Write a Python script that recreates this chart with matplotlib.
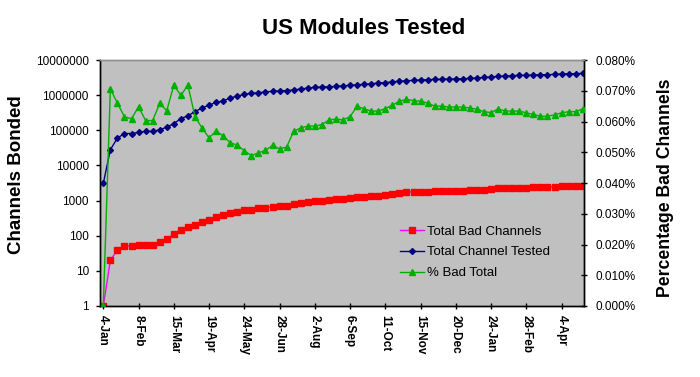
import datetime
import matplotlib
matplotlib.use("Agg")
import matplotlib.pyplot as plt
import matplotlib.dates as mdates
from matplotlib.ticker import FixedLocator, FuncFormatter, NullLocator

plt.rcParams['font.family'] = ['Liberation Sans', 'DejaVu Sans']

# weekly samples starting 4-Jan
START = datetime.date(2005, 1, 4)
N_WEEKS = 69
dates = [START + datetime.timedelta(days=7 * i) for i in range(N_WEEKS)]

tick_labels = ['4-Jan', '8-Feb', '15-Mar', '19-Apr', '24-May', '28-Jun', '2-Aug',
               '6-Sep', '11-Oct', '15-Nov', '20-Dec', '24-Jan', '28-Feb', '4-Apr']

bad_channels = [1, 20, 39, 51, 51, 55, 55, 55, 65, 80, 113, 147, 178, 203, 247, 283,
                344, 392, 447, 478, 533, 557, 596, 634, 677, 710, 710, 790,
                841, 938, 980, 980, 1047, 1117, 1117, 1194, 1275, 1275, 1361, 1361,
                1453, 1552, 1657, 1770, 1770, 1770, 1770, 1890, 1890, 1890, 1890, 1890,
                2018, 2018, 2018, 2155, 2301, 2301, 2301, 2301, 2301, 2457, 2457, 2457,
                2457, 2623, 2623, 2623, 2623]

channels_tested = [3100, 28000, 60000, 81000, 81000, 87000, 93000, 93000, 103000,
                   123000, 155000, 214000, 259000, 340000, 430000, 520000, 620000,
                   690000, 830000, 940000, 1050000, 1120000, 1170000, 1230000,
                   1290000, 1320000, 1350000, 1410000,
                   1490000, 1590000, 1660000, 1700000, 1730000, 1770000, 1850000,
                   1890000, 1980000, 2020000, 2110000, 2210000, 2260000, 2410000,
                   2460000, 2570000, 2630000, 2690000, 2750000, 2810000, 2810000,
                   2870000, 2870000, 2930000, 3000000, 3060000, 3200000, 3270000,
                   3420000, 3490000, 3570000, 3650000, 3650000, 3730000, 3810000,
                   3810000, 3900000, 3980000, 4070000, 4070000, 4160000]

# percent values
pct_bad = [0.0, 0.0706, 0.0660, 0.0615, 0.0609, 0.0648, 0.0603, 0.0603, 0.0659,
           0.0635, 0.0718, 0.0685, 0.0718, 0.0616, 0.0579, 0.0547, 0.0569, 0.0553,
           0.0531, 0.0523, 0.0505, 0.0489, 0.0498, 0.0506, 0.0522, 0.0511, 0.0517,
           0.0568,
           0.0579, 0.0585, 0.0585, 0.0590, 0.0605, 0.0608, 0.0605, 0.0616, 0.0649,
           0.0641, 0.0634, 0.0634, 0.0642, 0.0653, 0.0666, 0.0672, 0.0668, 0.0666,
           0.0660, 0.0650, 0.0650, 0.0647, 0.0647, 0.0647, 0.0644, 0.0640, 0.0632,
           0.0629, 0.0641, 0.0634, 0.0634, 0.0634, 0.0628, 0.0623, 0.0617, 0.0617,
           0.0622, 0.0628, 0.0632, 0.0632, 0.0641]

W, H = 700, 377
fig = plt.figure(figsize=(W / 100, H / 100), dpi=100)
ax = fig.add_axes([100 / W, 1 - 306 / H, 484 / W, 246 / H])
ax.set_facecolor('#c0c0c0')

l1, = ax.plot(dates, bad_channels, color='#ff00ff', lw=1, marker='s', ms=4.5,
              mfc='#ff0000', mec='#ff0000', label='Total Bad Channels', zorder=3)
l2, = ax.plot(dates, channels_tested, color='#000080', lw=1, marker='D', ms=3,
              mfc='#000080', mec='#000080', label='Total Channel Tested', zorder=3)
ax.set_yscale('log')
ax.set_ylim(1, 1e7)
ax.yaxis.set_major_locator(FixedLocator([10 ** k for k in range(8)]))
ax.yaxis.set_minor_locator(NullLocator())
ax.yaxis.set_major_formatter(FuncFormatter(lambda v, p: '%d' % round(v)))

x0 = mdates.date2num(dates[0])
ax.set_xlim(x0 - 0.47 * 7, mdates.date2num(dates[-1]) + 0.18 * 7)
ax.set_xticks(dates[::5][:len(tick_labels)])
ax.set_xticklabels(tick_labels, rotation=270, fontweight='bold', fontsize=8.5)

ax2 = ax.twinx()
l3, = ax2.plot(dates, pct_bad, color='#00b000', lw=1, marker='^', ms=5,
               mfc='#00b000', mec='#00b000', label='% Bad Total', zorder=3)
ax2.set_ylim(0, 0.08)
ax2.set_yticks([0.01 * k for k in range(9)])
ax2.yaxis.set_major_formatter(FuncFormatter(lambda v, p: '%.3f%%' % v))

for a in (ax, ax2):
    for s in a.spines.values():
        s.set_linewidth(1)
    a.spines['top'].set_color('#909090')
ax.spines['left'].set_color('black')
ax2.spines['right'].set_color('black')

ax.tick_params(axis='y', direction='out', length=3, width=1, pad=5, labelsize=8.5)
ax.tick_params(axis='x', direction='inout', length=5, width=1, pad=4)
ax2.tick_params(axis='y', direction='inout', length=5, width=1, pad=6, labelsize=8.5)

leg = ax2.legend(handles=[l1, l2, l3], loc='upper left',
                 bbox_to_anchor=(395 / W, 1 - 220 / H), bbox_transform=fig.transFigure,
                 frameon=False, fontsize=9.5, handlelength=1.8, handletextpad=0.2,
                 labelspacing=0.65, borderaxespad=0)

fig.text(364 / W, 1 - 29 / H, 'US Modules Tested', ha='center', va='center',
         fontsize=16, fontweight='bold')
fig.text(17 / W, 1 - 175 / H, 'Channels Bonded', ha='center', va='center',
         rotation=90, fontsize=13.5, fontweight='bold')
fig.text(665 / W, 1 - 188 / H, 'Percentage Bad Channels', ha='center', va='center',
         rotation=90, fontsize=12.7, fontweight='bold')

fig.savefig('out.png', dpi=100)
